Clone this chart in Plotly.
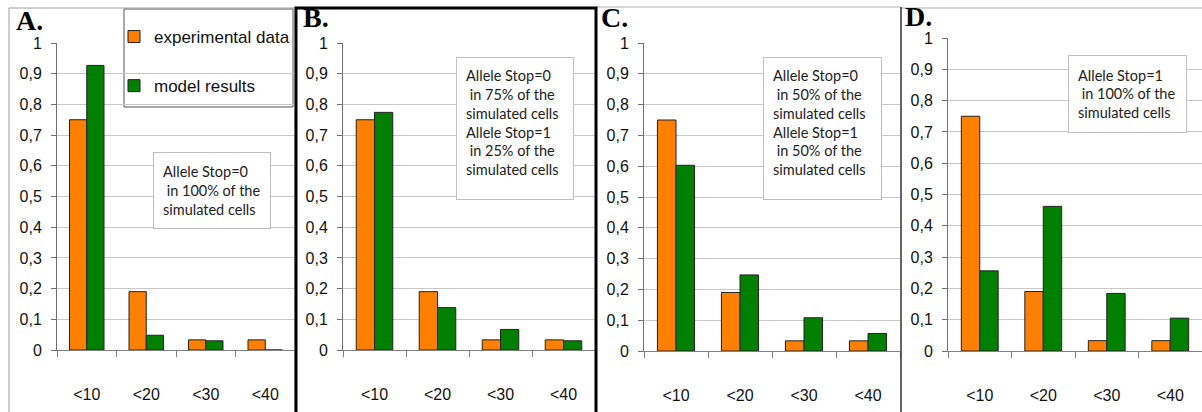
import plotly.graph_objects as go

W, H = 1202, 412

categories = ['<10', '<20', '<30', '<40']
experimental = [0.75, 0.19, 0.033, 0.033]
model_a = [0.927, 0.048, 0.03, 0.0]
model_b = [0.774, 0.138, 0.067, 0.03]
model_c = [0.603, 0.247, 0.108, 0.057]
model_d = [0.256, 0.462, 0.184, 0.105]
panel_letters = ['A.', 'B.', 'C.', 'D.']
panel_notes = [
    'Allele Stop=0<br> in 100% of the<br>simulated cells',
    'Allele Stop=0<br> in 75% of the<br>simulated cells<br>Allele Stop=1<br> in 25% of the<br>simulated cells',
    'Allele Stop=0<br> in 50% of the<br>simulated cells<br>Allele Stop=1<br> in 50% of the<br>simulated cells',
    'Allele Stop=1<br> in 100% of the<br>simulated cells',
]

ORANGE = '#ff8000'
GREEN = '#008000'
ARIAL = 'Liberation Sans, Arial, sans-serif'
CALIBRI = 'Lato, Open Sans, sans-serif'


def px(x):
    return x / W


def py(y):
    return 1 - y / H


# plot areas in pixels: (left, right, y of 1, y of 0)
areas = [(57, 295, 43, 350), (343, 595, 43, 350), (644, 900, 43, 351), (948, 1202, 38, 351)]
models = [model_a, model_b, model_c, model_d]

fig = go.Figure()
layout = {}
for i, ((x0, x1, ytop, ybot), model) in enumerate(zip(areas, models)):
    n = '' if i == 0 else str(i + 1)
    xa, ya = 'x' + n, 'y' + n
    fig.add_bar(x=categories, y=experimental, name='experimental data', xaxis=xa, yaxis=ya,
                marker=dict(color=ORANGE, line=dict(color='#222', width=1)),
                legendgroup='exp', showlegend=(i == 0))
    fig.add_bar(x=categories, y=model, name='model results', xaxis=xa, yaxis=ya,
                marker=dict(color=GREEN, line=dict(color='#222', width=1)),
                legendgroup='mod', showlegend=(i == 0))
    layout['xaxis' + n] = dict(
        domain=[px(x0), px(x1)], anchor=ya, showline=True, linecolor='#808080', linewidth=1,
        ticks='outside', tickson='boundaries', ticklen=6, tickcolor='#808080',
        showgrid=False, tickfont=dict(family=ARIAL, size=16, color='#111'),
        ticklabelstandoff=30, automargin=False,
    )
    layout['yaxis' + n] = dict(
        domain=[py(ybot), py(ytop)], anchor=xa, range=[0, 1], dtick=0.1,
        showline=True, linecolor='#707070', linewidth=1, ticks='outside', ticklen=5,
        tickcolor='#707070', showgrid=True, gridcolor='#c8c8c8', gridwidth=1,
        zeroline=False, tickfont=dict(family=ARIAL, size=16, color='#111'),
        ticklabelstandoff=6, automargin=False,
    )

fig.update_layout(**layout)


def frame(**kw):
    return dict(xref='paper', yref='paper', **kw)


# panel frames
shapes = [
    frame(type='rect', x0=px(9), x1=px(295), y0=py(414), y1=py(8), line=dict(color='#a0a0a0', width=1)),
    frame(type='line', x0=px(596), x1=px(900), y0=py(7), y1=py(7), line=dict(color='#b0b0b0', width=1)),
    frame(type='line', x0=px(901), x1=px(1202), y0=py(8), y1=py(8), line=dict(color='#b0b0b0', width=1)),
    frame(type='line', x0=px(901), x1=px(901), y0=py(7), y1=py(412), line=dict(color='#333', width=1.5)),
    frame(type='rect', x0=px(296), x1=px(596), y0=py(416), y1=py(8), line=dict(color='#000', width=3)),
    # legend frame
    frame(type='rect', x0=px(124), x1=px(293), y0=py(107), y1=py(9), line=dict(color='#555', width=1),
          fillcolor='white', layer='below'),
]

annotations = []
letter_pos = [(14, 21), (301, 18), (599, 18), (903, 17)]
for letter, (lx, ly) in zip(panel_letters, letter_pos):
    annotations.append(dict(text='<b>' + letter + '</b>', xref='paper', yref='paper', x=px(lx), y=py(ly),
                            xanchor='left', yanchor='middle', showarrow=False,
                            font=dict(family='Liberation Serif, Times New Roman, serif', size=28,
                                      color='#000')))

# note boxes: (left, top, width, height)
note_boxes = [(153, 152, 118, 77), (456, 57, 118, 143), (763, 57, 119, 143), (1068, 55, 119, 78)]
for note, (bx, by, bw, bh) in zip(panel_notes, note_boxes):
    annotations.append(dict(text=note, xref='paper', yref='paper', x=px(bx), y=py(by),
                            xanchor='left', yanchor='top', showarrow=False, align='left',
                            valign='top' if bh > 100 else 'middle',
                            width=bw - 20, height=bh - 20, borderpad=9,
                            bgcolor='white', bordercolor='#c0c0c0', borderwidth=1,
                            font=dict(family=CALIBRI, size=14.5, color='#222')))

fig.update_layout(
    width=W, height=H, margin=dict(l=0, r=0, t=0, b=0, pad=0, autoexpand=False),
    paper_bgcolor='white', plot_bgcolor='white',
    separators=', ', barmode='group', bargap=0.42, bargroupgap=0,
    shapes=shapes, annotations=annotations,
    showlegend=True,
    legend=dict(x=px(114), y=py(19), xanchor='left', yanchor='top', bgcolor='rgba(0,0,0,0)',
                borderwidth=0, tracegroupgap=24, font=dict(family=ARIAL, size=17, color='#111')),
)

fig.write_html('out.html', config={'displayModeBar': False},
               post_script="document.body.style.margin='0';document.body.style.overflow='hidden';")
